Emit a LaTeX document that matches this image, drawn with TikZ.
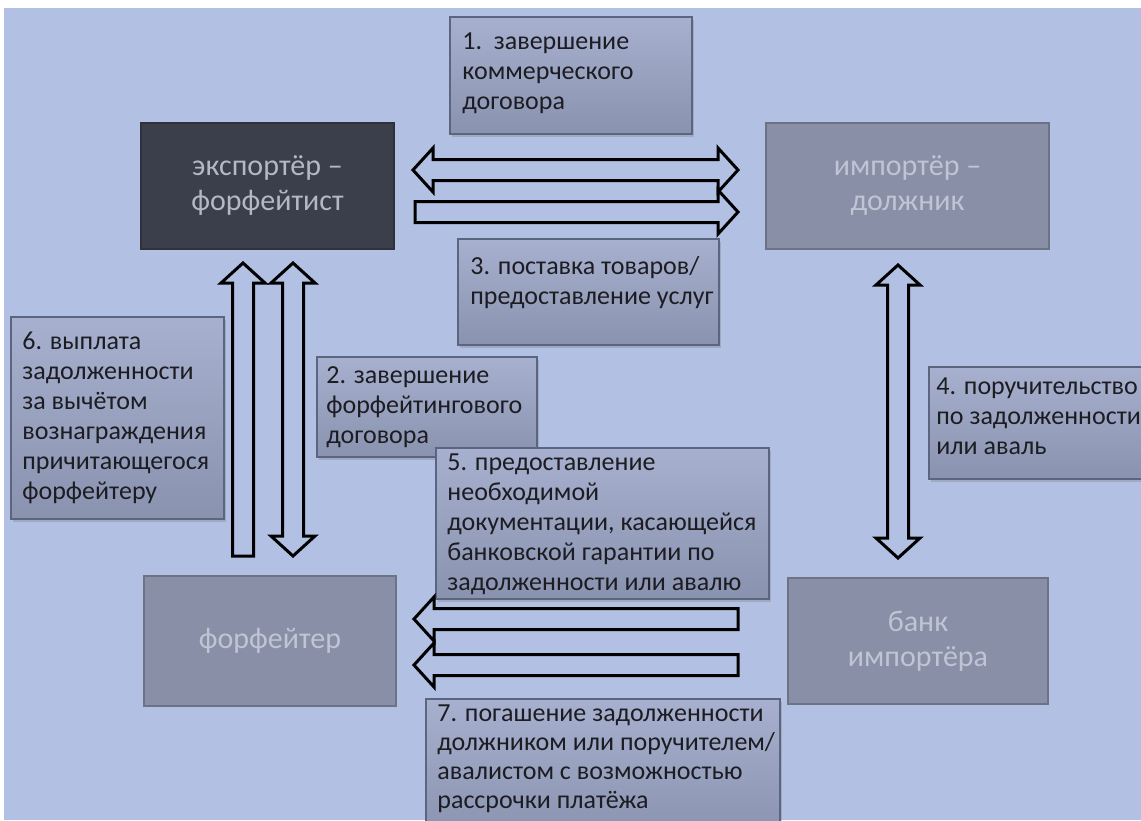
\documentclass[tikz,border=0pt]{standalone}
\usepackage{fontspec}
\setmainfont{Carlito}
\usetikzlibrary{calc,shadows}
\definecolor{bg}{HTML}{B1C0E3}
\definecolor{lbltop}{HTML}{A7B1CF}
\definecolor{lblbot}{HTML}{8993AF}
\definecolor{lbledge}{HTML}{5C6580}
\definecolor{lbltext}{HTML}{1C1C22}
\definecolor{expfill}{HTML}{3B3F4C}
\definecolor{exptext}{HTML}{B3B8C6}
\definecolor{grayfill}{HTML}{888FA6}
\definecolor{graytext}{HTML}{C0C5D5}
\tikzset{
  lblbox/.style={draw=lbledge, line width=1pt, top color=lbltop, bottom color=lblbot,
    anchor=north west, inner sep=0pt,
    drop shadow={opacity=0.35, shadow xshift=1pt, shadow yshift=-1.5pt}},
  lbltxt/.style={anchor=north west, inner sep=0pt, align=left, text=lbltext,
    font=\fontsize{13}{15}\selectfont},
  mainbox/.style={anchor=north west, inner sep=0pt, align=center, line width=1pt,
    font=\fontsize{15}{17.5}\selectfont},
  expbox/.style={mainbox, fill=expfill, draw=expfill!80!black, text=exptext},
  graybox/.style={mainbox, fill=grayfill, draw=grayfill!80!black, text=graytext},
  blockarr/.style={draw=black, line width=1.5pt, fill=bg, line join=miter},
}
\newcommand\sarrow[2]{%
  \path ($(#2)!10pt!(#1)$) coordinate (hb);
  \draw[blockarr] ($(#1)!5.25pt!90:(#2)$) -- ($(hb)!5.25pt!90:(#2)$) -- ($(hb)!11pt!90:(#2)$) -- (#2)
    -- ($(hb)!11pt!-90:(#2)$) -- ($(hb)!5.25pt!-90:(#2)$) -- ($(#1)!5.25pt!-90:(#2)$) -- cycle;}
\newcommand\darrow[2]{%
  \path ($(#1)!10pt!(#2)$) coordinate (ha) ($(#2)!10pt!(#1)$) coordinate (hb);
  \draw[blockarr] (#1) -- ($(ha)!11pt!90:(#2)$) -- ($(ha)!5.25pt!90:(#2)$) -- ($(hb)!5.25pt!90:(#2)$)
    -- ($(hb)!11pt!90:(#2)$) -- (#2) -- ($(hb)!11pt!-90:(#2)$) -- ($(hb)!5.25pt!-90:(#2)$)
    -- ($(ha)!5.25pt!-90:(#2)$) -- ($(ha)!11pt!-90:(#2)$) -- cycle;}
\begin{document}
\begin{tikzpicture}[x=0.5pt,y=-0.5pt]
\clip (0,0) rectangle (1141,820);
\fill[white] (0,0) rectangle (1141,820);
\fill[bg] (4,8) rectangle (1141,820);

% main boxes
\node[expbox, minimum width=126.5pt, minimum height=63pt] (exp) at (140,122) {экспортёр –\\форфейтист};
\node[graybox, minimum width=141.5pt, minimum height=63pt] (imp) at (765,122) {импортёр –\\должник};
\node[graybox, minimum width=126pt, minimum height=65pt] (forf) at (143,575) {форфейтер};
\node[graybox, minimum width=130pt, minimum height=63pt] (bank) at (787,577) {банк\\импортёра};

% label boxes
\node[lblbox, minimum width=121pt, minimum height=58.5pt] (b1) at (449,16) {};
\node[lbltxt] (t1) at ($(b1.north west)+(13,16)$) {1.\ \ завершение\\коммерческого\\договора};
\node[lblbox, minimum width=130.5pt, minimum height=53pt] (b3) at (457,238) {};
\node[lbltxt] (t3) at ($(b3.north west)+(13,18)$) {3. поставка товаров/\\предоставление услуг};
\node[lblbox, minimum width=106.5pt, minimum height=101pt] (b6) at (10,316) {};
\node[lbltxt] (t6) at ($(b6.north west)+(12,16)$) {6. выплата\\задолженности\\за вычётом\\вознаграждения\\причитающегося\\форфейтеру};
\node[lblbox, minimum width=110pt, minimum height=50pt] (b2) at (316,356) {};
\node[lbltxt] (t2) at ($(b2.north west)+(10,10)$) {2. завершение\\форфейтингового\\договора};
\node[lblbox, minimum width=166.5pt, minimum height=75.5pt] (b5) at (435,447) {};
\node[lbltxt] (t5) at ($(b5.north west)+(12,6)$) {5. предоставление\\необходимой\\документации, касающейся\\банковской гарантии по\\задолженности или авалю};
\node[lblbox, minimum width=110pt, minimum height=56pt] (b4) at (928,366) {};
\node[lbltxt] (t4) at ($(b4.north west)+(8,11)$) {4. поручительство\\по задолженности\\или аваль};
\node[lblbox, minimum width=177pt, minimum height=70pt] (b7) at (425,698) {};
\node[lbltxt, font=\fontsize{13}{14.6}\selectfont] (t7) at ($(b7.north west)+(12,6)$) {7. погашение задолженности\\должником или поручителем/\\авалистом с возможностью\\рассрочки платёжа};

% block arrows
\coordinate (h1a) at (413,170); \coordinate (h1b) at (738,170);
\coordinate (h2a) at (415,212); \coordinate (h2b) at (738,212);
\coordinate (v1a) at (243,556); \coordinate (v1b) at (243,263);
\coordinate (v2a) at (293,263); \coordinate (v2b) at (293,556);
\coordinate (v3a) at (898,265); \coordinate (v3b) at (898,558);
\coordinate (h3a) at (738,619); \coordinate (h3b) at (414,619);
\coordinate (h4a) at (738,665); \coordinate (h4b) at (414,665);
\darrow{h1a}{h1b}
\sarrow{h2a}{h2b}
\sarrow{v1a}{v1b}
\darrow{v2a}{v2b}
\darrow{v3a}{v3b}
\sarrow{h3a}{h3b}
\sarrow{h4a}{h4b}
\end{tikzpicture}
\end{document}
